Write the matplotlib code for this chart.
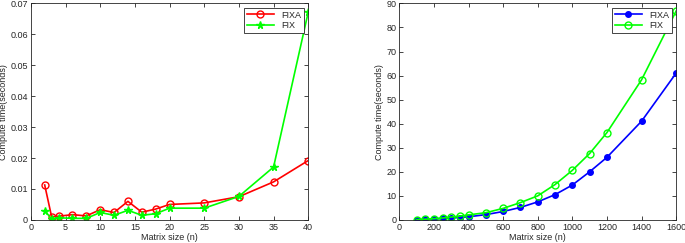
import matplotlib.pyplot as plt

# left panel: small matrices
n_small = [2, 3, 4, 6, 8, 10, 12, 14, 16, 18, 20, 25, 30, 35, 40]
fixa_small = [0.0113, 0.0010, 0.0012, 0.0017, 0.0013, 0.0033, 0.0024, 0.0060,
              0.0025, 0.0035, 0.0050, 0.0055, 0.0075, 0.0123, 0.0192]
fix_small = [0.0030, 0.0003, 0.0007, 0.0005, 0.0005, 0.0024, 0.0015, 0.0031,
             0.0015, 0.0020, 0.0038, 0.0038, 0.0076, 0.0171, 0.0672]

# right panel: large matrices
n_large = [100, 150, 200, 250, 300, 350, 400, 500, 600, 700, 800, 900, 1000,
           1100, 1200, 1400, 1600]
fixa_large = [0.1, 0.2, 0.4, 0.6, 0.8, 1.0, 1.3, 2.2, 3.5, 5.2, 7.5, 10.5, 14.5,
              20.0, 26.0, 41.0, 61.0]
fix_large = [0.1, 0.3, 0.5, 0.8, 1.2, 1.6, 2.1, 3.0, 4.8, 7.2, 10.0, 14.7, 20.6,
             27.6, 36.3, 58.2, 86.8]

plt.rcParams['font.family'] = ['Liberation Sans', 'DejaVu Sans']
plt.rcParams['font.size'] = 6.5
plt.rcParams['text.color'] = '#262626'
plt.rcParams['axes.labelcolor'] = '#262626'
plt.rcParams['xtick.color'] = '#262626'
plt.rcParams['ytick.color'] = '#262626'
plt.rcParams['axes.edgecolor'] = '#262626'

fig = plt.figure(figsize=(6.85, 2.43), dpi=100)
ax1 = fig.add_axes([0.045, 0.095, 0.405, 0.891])
ax2 = fig.add_axes([0.583, 0.095, 0.404, 0.891])

ax1.plot(n_small, fixa_small, color='red', marker='o', mfc='none', ms=5,
         lw=1.2, label='FIXA')
ax1.plot(n_small, fix_small, color='#00ff00', marker='*', ms=5.5,
         lw=1.2, label='FIX')
ax1.set_xlim(0, 40)
ax1.set_ylim(0, 0.07)
ax1.set_xticks([0, 5, 10, 15, 20, 25, 30, 35, 40])
ax1.set_yticks([0, 0.01, 0.02, 0.03, 0.04, 0.05, 0.06, 0.07])
ax1.set_yticklabels(['0', '0.01', '0.02', '0.03', '0.04', '0.05', '0.06', '0.07'])
ax1.set_xlabel('Matrix size (n)', labelpad=1)
ax1.set_ylabel('Compute time(seconds)', labelpad=2)

ax2.plot(n_large, fixa_large, color='blue', marker='o', ms=4,
         lw=1.2, label='FIXA')
ax2.plot(n_large, fix_large, color='#00ff00', marker='o', mfc='none', ms=5,
         lw=1.2, label='FIX')
ax2.set_xlim(0, 1600)
ax2.set_ylim(0, 90)
ax2.set_xticks(range(0, 1601, 200))
ax2.set_yticks(range(0, 91, 10))
ax2.set_xlabel('Matrix size (n)', labelpad=1)
ax2.set_ylabel('Compute time(seconds)', labelpad=2)

for ax in (ax1, ax2):
    ax.tick_params(direction='in', length=3, width=0.6, top=True, right=True, pad=2)
    for s in ax.spines.values():
        s.set_linewidth(0.6)
    leg = ax.legend(loc='upper right', fancybox=False, edgecolor='#262626',
                    framealpha=1, borderpad=0.3, labelspacing=0.2,
                    handlelength=3, borderaxespad=0.5)
    leg.get_frame().set_linewidth(0.6)

fig.savefig('out.png', dpi=100)
